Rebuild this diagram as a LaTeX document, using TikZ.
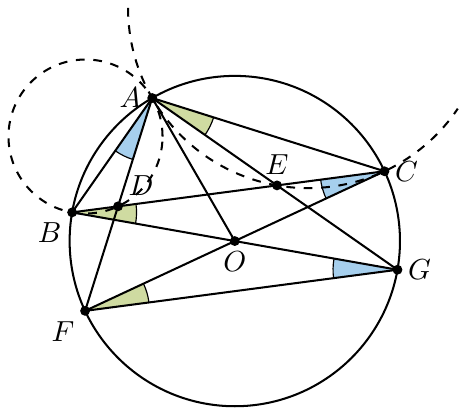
\documentclass[tikz,border=0pt]{standalone}
\usetikzlibrary{angles}

\definecolor{anggreen}{RGB}{207,219,161}
\definecolor{angblue}{RGB}{166,207,237}

\tikzset{
  dot/.style={circle,fill,inner sep=0pt,minimum size=3.4pt},
  greenang/.style={draw,thin,fill=anggreen,angle radius=0.78cm},
  blueang/.style={draw,thin,fill=angblue,angle radius=0.78cm}
}

\begin{document}
\begin{tikzpicture}[line width=0.7pt]
\useasboundingbox (-2.843,-2.093) rectangle (2.739,2.919);

\coordinate (O) at (0,0);
\coordinate (A) at (120:2);
\coordinate (B) at (170:2);
\coordinate (C) at (25:2);
\coordinate (F) at (205:2);
\coordinate (G) at (-10:2);
\coordinate (D) at (intersection of A--F and B--C);
\coordinate (E) at (intersection of A--G and B--C);

% equal angles
\pic[greenang] {angle=G--A--C};
\pic[greenang] {angle=G--B--C};
\pic[greenang] {angle=G--F--C};
\pic[blueang] {angle=B--A--F};
\pic[blueang] {angle=B--C--F};
\pic[blueang] {angle=B--G--F};

\draw (O) circle (2);
\draw[dashed] (-1.8077,1.2657) circle (0.9327);
\draw[dashed] (0.8903,2.8239) ++(180:2.183) arc (180:326:2.183);

\draw (A) -- (B);
\draw (A) -- (C);
\draw (A) -- (F);
\draw (A) -- (O);
\draw (A) -- (G);
\draw (B) -- (C);
\draw (B) -- (G);
\draw (F) -- (C);
\draw (F) -- (G);

\foreach \p in {A,B,C,D,E,F,G,O}
  \node[dot] (p\p) at (\p) {};

\node[left] (la) at (A) {$A$};
\node[below left] (lb) at (B) {$B$};
\node[right] (lc) at (C) {$C$};
\node[above right] (ld) at (D) {$D$};
\node[above] (le) at (E) {$E$};
\node[below left] (lf) at (F) {$F$};
\node[right] (lg) at (G) {$G$};
\node[below] (lo) at (O) {$O$};
\end{tikzpicture}
\end{document}
